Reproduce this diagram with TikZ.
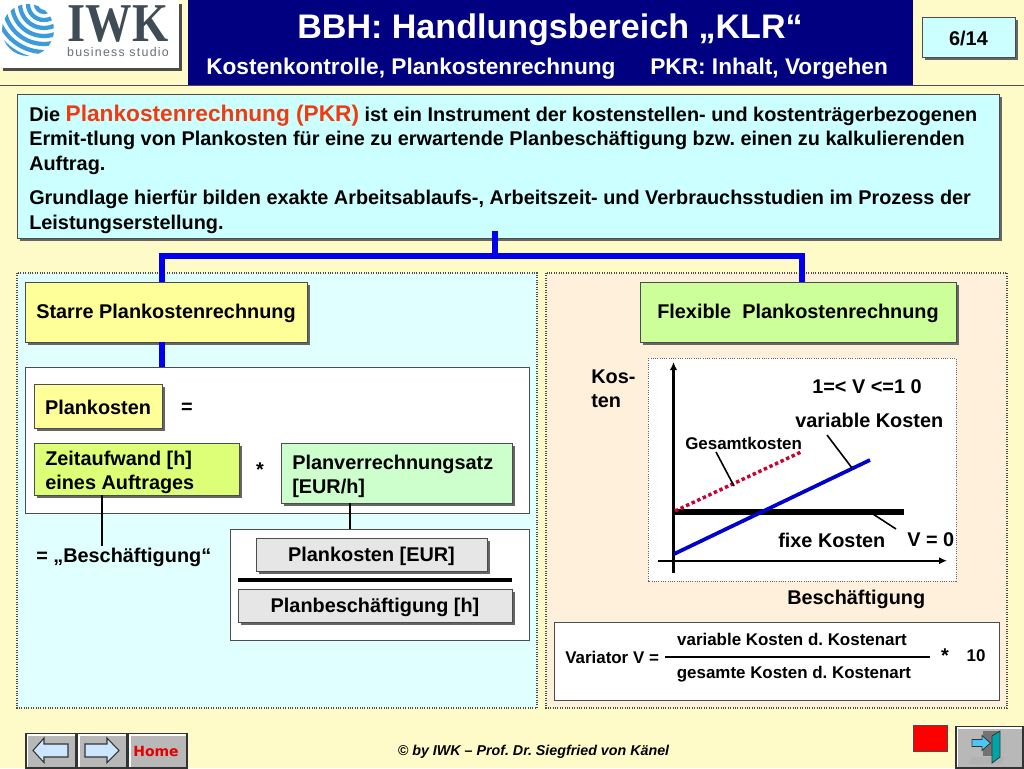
\documentclass[tikz,border=0pt]{standalone}
\usepackage{fontspec}
\setmainfont{Liberation Sans}
\newfontfamily\logofont[LetterSpace=10]{Liberation Sans}
\newfontfamily\logoserif{Liberation Serif}
\newfontfamily\homefont{DejaVu Sans}
\usetikzlibrary{shadows,arrows.meta}
\definecolor{bgc}{HTML}{FFFBC8}
\definecolor{navy}{HTML}{000080}
\definecolor{cyanbox}{HTML}{CCFFFF}
\definecolor{panelL}{HTML}{E0FFFF}
\definecolor{panelR}{HTML}{FFF0DC}
\definecolor{yel}{HTML}{FFFF99}
\definecolor{lime}{HTML}{DDFF77}
\definecolor{mint}{HTML}{CCFFCC}
\definecolor{flex}{HTML}{CCFF99}
\definecolor{lgray}{HTML}{E6E6E6}
\definecolor{btn}{HTML}{B8B8B8}
\definecolor{arr}{HTML}{CCE6FF}
\definecolor{globe}{HTML}{3C9BDC}
\definecolor{iwk}{HTML}{3F4C55}
\definecolor{bluel}{HTML}{0000EE}
\definecolor{redd}{HTML}{CC0033}
\definecolor{orred}{HTML}{F03A10}
\newcommand{\fsz}[1]{\fontsize{#1}{#1}\selectfont\bfseries}
\tikzset{
  x=0.75pt,y=-0.75pt,
  box/.style={draw=black!70,line width=0.6pt,drop shadow={shadow xshift=2.5pt,shadow yshift=-2.5pt,fill=black!60,opacity=1},inner sep=0pt,anchor=north west},
  whitebox/.style={draw=black!70,fill=white,line width=0.7pt},
  lbl/.style={inner sep=0pt,font=\fsz{14.9}},
  body/.style={inner sep=0pt,anchor=west,font=\fsz{14.9}},
  small/.style={inner sep=0pt,font=\fsz{12.7}},
  panel/.style={draw=black!70,densely dotted,line width=0.8pt},
  bline/.style={draw=bluel,line width=3.8pt},
  kline/.style={draw=black,line width=1.4pt},
  button/.style={fill=btn,draw=black!80,line width=0.9pt},
  arrowicon/.style={fill=arr,draw=black!80,line width=0.8pt},
}
\newcommand{\bx}[7]{% name, x0,y0,x1,y1, fill, text
  \path[box,fill=#6] (#2,#3) rectangle (#4,#5);
  \path (#2,#3) rectangle (#4,#5) coordinate[pos=.5] (#1c);
  \node[lbl,align=left] (#1) at ([yshift=-1.4pt]#1c) {#7};
}
\newcommand{\bxl}[8]{% name, x0,y0,x1,y1, fill, text x, text
  \path[box,fill=#6] (#2,#3) rectangle (#4,#5);
  \path (#2,#3) rectangle (#4,#5) coordinate[pos=.5] (#1c);
  \node[lbl,align=left,anchor=west] (#1) at (#7,{(#3+#5)/2+3.5}) {#8};
}
\newcommand{\btnedge}[4]{%
  \draw[white,line width=1pt] (#1+1.5,#4-1.5) -- (#1+1.5,#2+1.5) -- (#3-1.5,#2+1.5);
}
\begin{document}
\frenchspacing
\begin{tikzpicture}
\useasboundingbox (0,0) rectangle (1024,768);
\fill[bgc] (0,0) rectangle (1024,768);
\draw[black!70,line width=0.7pt] (0,85) -- (1024,85);
% header
\fill[navy] (188,0) rectangle (913,85);
\fill[black!70] (3,4) rectangle (182,71);
\fill[white] (0,0) rectangle (179,68);
% globe
\begin{scope}
\clip (28,30) circle (26);
\foreach \r in {8,16,24,32,40,48,56}
  \draw[globe,line width=3.2pt] (44,4) circle (\r);
\end{scope}
\node[inner sep=0pt,text=iwk,font=\logoserif\bfseries\fontsize{41}{41}\selectfont] (logo) at (118,24) {\scalebox{.85}[1]{IWK}};
\node[inner sep=0pt,text=iwk!80,font=\logofont\fontsize{9.3}{9.3}\selectfont] (logosub) at (118,52.5) {business studio};
\node[inner sep=0pt,text=white,font=\fsz{25.55}] (title) at (550,30) {BBH: Handlungsbereich „KLR“};
\node[inner sep=0pt,text=white,font=\fsz{17},anchor=west] (sub1) at (206,69) {Kostenkontrolle, Plankostenrechnung};
\node[inner sep=0pt,text=white,font=\fsz{17},anchor=west] (sub2) at (650,69) {PKR: Inhalt, Vorgehen};
\bx{page}{922}{17}{1015}{57}{cyanbox}{\fontsize{14.9}{14.9}\selectfont\bfseries 6/14}
% top box
\path[box,fill=cyanbox] (17,94) rectangle (999,238);
\coordinate (topS) at (495,231);
\node[body] (t1) at (29,115.5) {Die {\color{orred}\fontsize{17}{17}\selectfont Plankostenrechnung (PKR)} ist ein Instrument der kostenstellen- und kostenträgerbezogenen};
\node[body] (t2) at (29,140.5) {Ermit-tlung von Plankosten für eine zu erwartende Planbeschäftigung bzw. einen zu kalkulierenden};
\node[body] (t3) at (29,165.5) {Auftrag.};
\node[body] (t4) at (29,199.5) {Grundlage hierfür bilden exakte Arbeitsablaufs-, Arbeitszeit- und Verbrauchsstudien im Prozess der};
\node[body] (t5) at (29,224.5) {Leistungserstellung.};
% panels
\path[panel,fill=panelL] (17,273) rectangle (537,708);
\path[panel,fill=panelR] (546,273) rectangle (1007,708);
% blue tree
\coordinate (j) at (495,256);
\bx{starre}{25}{282}{307}{342}{yel}{Starre Plankostenrechnung}
\bx{flexb}{640}{282}{956}{342}{flex}{Flexible\ \ Plankostenrechnung}
\draw[bline] (topS) -- (j);
\draw[bline,line cap=butt] (162,282) |- (802,256) -- (802,282);
% left content
\draw[whitebox] (25,367) rectangle (529,513);
\draw[bline] (162,342) -- (162,367);
\bx{pk}{34}{384}{162}{428}{yel}{Plankosten}
\node[lbl] (eq) at (187,408) {=};
\bxl{zeit}{34}{443}{239}{495}{lime}{45}{Zeitaufwand [h]\\[3pt]eines Auftrages}
\node[lbl] (mal) at (260,470) {*};
\bxl{plan}{281}{443}{512}{503}{mint}{292}{Planverrechnungsatz\\[3pt]{}[EUR/h]}
\node[lbl,anchor=west] (besch) at (36,557) {= „Beschäftigung“};
\draw[kline] (102,495) -- (102,546);
\draw[whitebox] (230,529) rectangle (529,640);
\draw[kline,line width=2pt] (350,503) -- (350,529);
\bx{pe}{256}{538}{487}{571}{lgray}{Plankosten [EUR]}
\draw[black,line width=2.3pt] (238,580) -- (512,580);
\bx{pb}{238}{589}{512}{622}{lgray}{Planbeschäftigung [h]}
% chart
\node[lbl,anchor=west,align=left] (kos) at (591,389) {Kos-\\[3pt]ten};
\path[draw=black!60,densely dotted,line width=0.7pt,fill=white] (648,358) rectangle (956,581);
\draw[black,line width=1.9pt,-{Latex[length=6pt,width=5.5pt]}] (673.5,573) -- (673.5,362);
\draw[black,line width=1.5pt,-{Latex[length=6pt,width=5.5pt]}] (658,560.7) -- (947,560.7);
\draw[black,line width=5pt] (675,512) -- (904,512);
\draw[redd,line width=2.6pt,dotted] (675,511) -- (801,452);
\draw[bluel!85!black,line width=2.8pt] (674,554) -- (870,460);
\draw[black,line width=1.2pt] (716,452) -- (734,486);
\draw[black,line width=1.2pt] (827,435) -- (852,468);
\draw[black,line width=1.2pt] (873,514) -- (896,529);
\node[lbl] (r1) at (867,386.5) {1=< V <=1 0};
\node[lbl,anchor=west] (r2) at (795,420.5) {variable Kosten};
\node[small,anchor=west] (r3) at (685,443.5) {Gesamtkosten};
\node[lbl,anchor=west] (r4) at (778,540) {fixe Kosten};
\node[lbl,anchor=west] (r5) at (907,540) {V = 0};
\node[lbl,anchor=west] (r6) at (787,599.5) {Beschäftigung};
% variator
\draw[whitebox] (554,622) rectangle (999,700);
\node[small,anchor=west] (v1) at (565,657) {Variator V =};
\node[small] (v2) at (792,639.5) {variable Kosten d. Kostenart};
\node[small] (v3) at (794,674) {gesamte Kosten d. Kostenart};
\draw[black,line width=1.4pt] (665,657) -- (930,657);
\node[lbl] (v4) at (945,656) {*};
\node[small] (v5) at (976,656) {10};
% footer
\node[inner sep=0pt,font=\fontsize{10.7}{10.7}\selectfont\bfseries\itshape] (foot) at (533.5,752) {© by IWK – Prof. Dr. Siegfried von Känel};
% buttons
\draw[button] (26,733.5) rectangle (76,768);
\btnedge{26}{733.5}{76}{768}
\draw[arrowicon] (33,750.5) -- (44,738) -- (44,744) -- (68,744) -- (68,757) -- (44,757) -- (44,762.5) -- cycle;
\draw[button] (77.5,733.5) rectangle (127,768);
\btnedge{77.5}{733.5}{127}{768}
\draw[arrowicon] (119,750.5) -- (107,738) -- (107,744) -- (85,744) -- (85,757) -- (107,757) -- (107,762.5) -- cycle;
\draw[button] (128.5,733.5) rectangle (187,768);
\btnedge{128.5}{733.5}{187}{768}
\node[inner sep=0pt,text=red!90!black,font=\homefont\bfseries\fontsize{10.5}{10.5}\selectfont] (home) at (156,751) {Home};
\draw[fill=red,draw=black!70,line width=0.7pt] (913,725) rectangle (947,751);
\draw[button] (956,726.5) rectangle (1023,768);
\btnedge{956}{726.5}{1023}{768}
\fill[black!55] (983,731) rectangle (1000,756);
\fill[black!30] (972,757) -- (1005,757) -- (1001,764) -- (968,764) -- cycle;
\draw[fill=teal!70!cyan,draw=black!80,line width=0.6pt] (992,736) -- (1000,731) -- (1000,757) -- (992,763) -- cycle;
\draw[fill=cyan!70!white,draw=black!80,line width=0.6pt] (972,739.5) -- (982,739.5) -- (982,735.5) -- (990.5,743) -- (982,750.5) -- (982,746.5) -- (972,746.5) -- cycle;
\end{tikzpicture}
\end{document}
